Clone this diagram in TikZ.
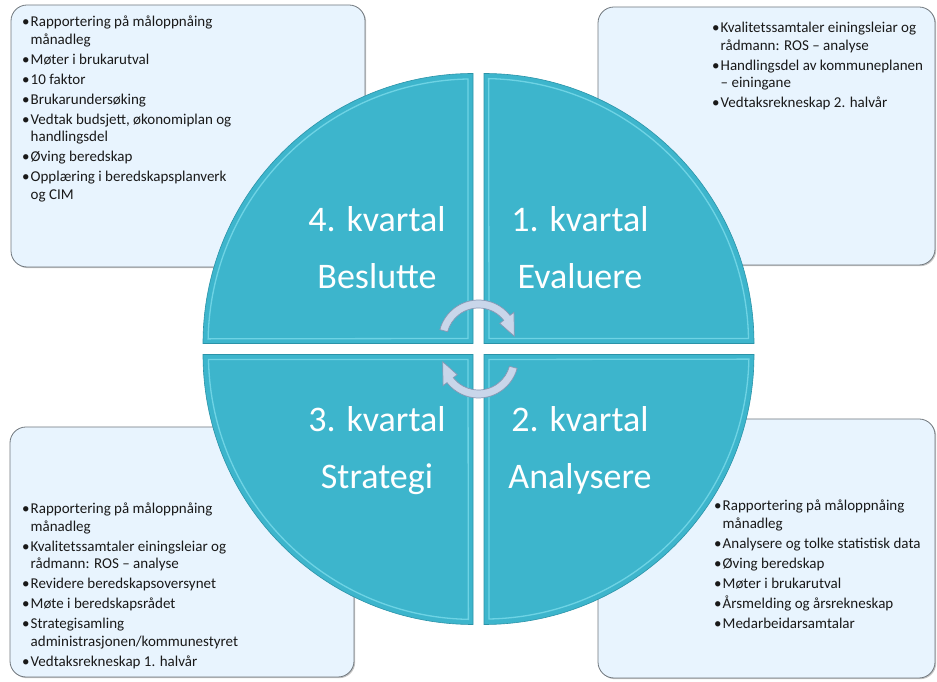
\documentclass[tikz,border=0pt]{standalone}
\usepackage{fontspec}
\setmainfont{Carlito}
\usetikzlibrary{positioning,calc,shadows}

\definecolor{quadfill}{RGB}{61,181,204}
\definecolor{quadlight}{RGB}{143,232,245}
\definecolor{quadedge}{RGB}{43,147,168}
\definecolor{boxfill}{RGB}{232,244,254}
\definecolor{boxline}{RGB}{112,119,125}
\definecolor{arrowfill}{RGB}{201,214,234}
\definecolor{arrowline}{RGB}{136,152,180}

\tikzset{
	infobox/.style={draw=boxline, fill=boxfill, line width=0.8pt, rounded corners=16pt,
		drop shadow={shadow xshift=1.2pt, shadow yshift=-1.2pt, fill=black!45, opacity=.5}},
	infotext/.style={anchor=north west, align=left, inner sep=0pt, text=black!90,
		font=\fontsize{15}{17.5}\selectfont},
	quarter/.style={fill=quadfill, draw=quadedge, line width=0.6pt},
	bevel/.style={draw=quadlight, line width=1.3pt, opacity=.6},
	phase/.style={align=center, text=white, font=\fontsize{36}{57}\selectfont},
	cycarrow/.style={fill=arrowfill, draw=arrowline, line width=0.7pt},
}

\newcommand{\itm}{\makebox[8.5pt][l]{\textbullet}}
\newcommand{\ind}{\hspace*{8.5pt}}

% block arrow bent round the local origin
\newcommand{\bentarrow}{%
	\draw[cycarrow] (165:40) arc[start angle=165, end angle=38, radius=40]
		-- (38:45) -- (6:36) -- (38:27) -- (38:32)
		arc[start angle=38, end angle=165, radius=32] -- cycle;}

\begin{document}
\begin{tikzpicture}[x=1pt, y=1pt]
	\useasboundingbox (0,0) rectangle (937,682);

	% boxes
	\node[infobox, minimum width=354, minimum height=262] (boxTL) at (188,546) {};
	\node[infobox, minimum width=337, minimum height=258] (boxTR) at (766.5,546) {};
	\node[infobox, minimum width=344, minimum height=250] (boxBL) at (182,130) {};
	\node[infobox, minimum width=337, minimum height=259] (boxBR) at (766.5,133.5) {};

	\node[infotext] (txtTL) at (22,666) {%
		\itm Rapportering på måloppnåing\\ \ind månadleg\\[2.5pt]
		\itm Møter i brukarutval\\[2.5pt]
		\itm 10 faktor\\[2.5pt]
		\itm Brukarundersøking\\[2.5pt]
		\itm Vedtak budsjett, økonomiplan og\\ \ind handlingsdel\\[2.5pt]
		\itm Øving beredskap\\[2.5pt]
		\itm Opplæring i beredskapsplanverk\\ \ind og CIM};
	\node[infotext] (txtTR) at (712,660) {%
		\itm Kvalitetssamtaler einingsleiar og\\ \ind rådmann: ROS – analyse\\[2.5pt]
		\itm Handlingsdel av kommuneplanen\\ \ind – einingane\\[2.5pt]
		\itm Vedtaksrekneskap 2. halvår};
	\node[infotext] (txtBL) at (22,179) {%
		\itm Rapportering på måloppnåing\\ \ind månadleg\\[2.5pt]
		\itm Kvalitetssamtaler einingsleiar og\\ \ind rådmann: ROS – analyse\\[2.5pt]
		\itm Revidere beredskapsoversynet\\[2.5pt]
		\itm Møte i beredskapsrådet\\[2.5pt]
		\itm Strategisamling\\ \ind administrasjonen/kommunestyret\\[2.5pt]
		\itm Vedtaksrekneskap 1. halvår};
	\node[infotext] (txtBR) at (714,182) {%
		\itm Rapportering på måloppnåing\\ \ind månadleg\\[2.5pt]
		\itm Analysere og tolke statistisk data\\[2.5pt]
		\itm Øving beredskap\\[2.5pt]
		\itm Møter i brukarutval\\[2.5pt]
		\itm Årsmelding og årsrekneskap\\[2.5pt]
		\itm Medarbeidarsamtalar};

	% the four quarters
	\foreach \ang in {0,90,180,270} {
		\begin{scope}[shift={(478.5,333)}, rotate=\ang]
			\draw[quarter] (5.5,5.5) -- ++(270,0) arc[start angle=0, end angle=90, radius=270] -- cycle;
			\draw[bevel] (10.5,10.5) -- (270,10.5) arc[start angle=1.1, end angle=88.9, radius=265] -- cycle;
		\end{scope}
	}

	\node[phase] (q1) at (580,434.5) {1. kvartal\\Evaluere};
	\node[phase] (q4) at (377,434.5) {4. kvartal\\Beslutte};
	\node[phase] (q3) at (377,231.5) {3. kvartal\\Strategi};
	\node[phase] (q2) at (580,231.5) {2. kvartal\\Analysere};

	% cycle arrows
	\begin{scope}[shift={(478.5,342)}]
		\bentarrow
	\end{scope}
	\begin{scope}[shift={(478.5,324)}, rotate=180]
		\bentarrow
	\end{scope}
\end{tikzpicture}
\end{document}
